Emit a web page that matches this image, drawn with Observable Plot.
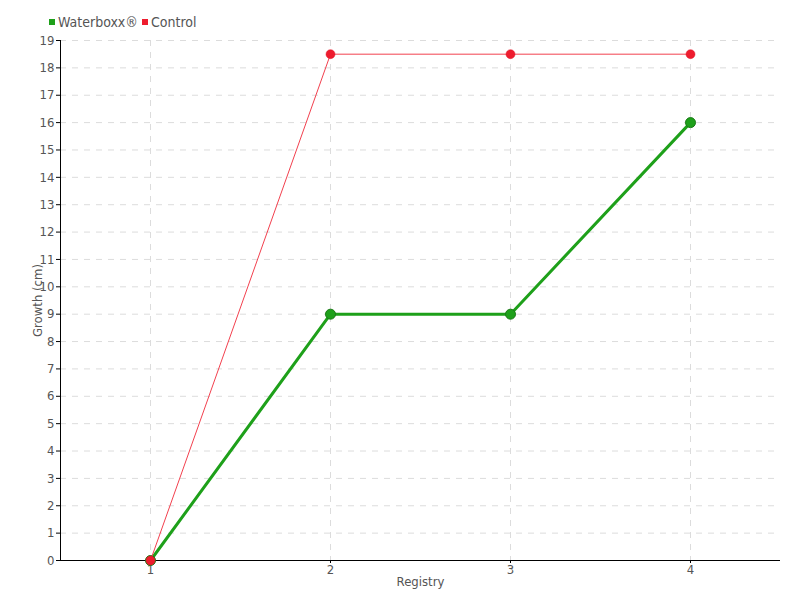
<!DOCTYPE html>
<html>
<head>
<meta charset="utf-8">
<script src="https://cdn.jsdelivr.net/npm/d3@7"></script>
<script src="https://cdn.jsdelivr.net/npm/@observablehq/plot@0.6"></script>
<style>
  body { margin: 0; background: #fff; font-family: "DejaVu Sans Condensed", "Liberation Sans Narrow", sans-serif; }
  #legend { height: 32px; position: relative; color: #555; font-size: 14px; }
  #legend span.item { position: absolute; top: 14px; line-height: 16px; }
  #legend i { display: inline-block; width: 6px; height: 6px; margin-right: 3px; vertical-align: 2px; }
  svg { display: block; }
</style>
</head>
<body>
<div id="legend"></div>
<div id="chart"></div>
<script>
const registry = [1, 2, 3, 4];
const waterboxx = [0, 9, 9, 16];
const control = [0, 18.5, 18.5, 18.5];
const yTicks = d3.range(0, 20);
const seriesNames = ["Waterboxx®", "Control"];
const seriesColors = ["#1ea01a", "#ee1c2e"];

const legend = document.getElementById("legend");
const legendX = [49, 142];
seriesNames.forEach((n, i) => {
  const s = document.createElement("span");
  s.className = "item";
  s.style.left = legendX[i] + "px";
  s.innerHTML = `<i style="background:${seriesColors[i]}"></i>${n}`;
  legend.appendChild(s);
});

const wData = registry.map((r, i) => ({r, v: waterboxx[i]}));
const cData = registry.map((r, i) => ({r, v: control[i]}));

const chart = Plot.plot({
  width: 800,
  height: 568,
  marginTop: 8,
  marginBottom: 40,
  marginLeft: 60,
  marginRight: 20,
  style: { fontFamily: '"DejaVu Sans Condensed", "Liberation Sans Narrow", sans-serif', fontSize: "13px", color: "#555" },
  x: { domain: [0.5, 4.5], ticks: registry },
  y: { domain: [0, 19], ticks: yTicks },
  marks: [
    Plot.gridX(registry, { stroke: "#dcdcdc", strokeOpacity: 1, strokeDasharray: "6,6" }),
    Plot.gridY(yTicks.filter(d => d > 0), { stroke: "#dcdcdc", strokeOpacity: 1, strokeDasharray: "6,6" }),
    Plot.ruleY([0], { stroke: "#000" }),
    Plot.ruleX([0.5], { stroke: "#000" }),
    Plot.axisX({ ticks: registry, tickSize: 3, tickPadding: 1, tickFormat: d3.format("d"), label: "Registry", labelAnchor: "center", labelArrow: "none", labelOffset: 25, fontSize: 13, stroke: "#000" }),
    Plot.axisY({ ticks: yTicks, tickSize: 4, tickPadding: 2, tickFormat: d3.format("d"), label: "Growth (cm)", labelAnchor: "center", labelArrow: "none", labelOffset: 28, fontSize: 13, stroke: "#000" }),
    Plot.line(wData, { x: "r", y: "v", stroke: seriesColors[0], strokeWidth: 3 }),
    Plot.dot(wData, { x: "r", y: "v", r: 5, fill: seriesColors[0], stroke: "#1a7a16", strokeWidth: 1 }),
    Plot.line(cData, { x: "r", y: "v", stroke: "#f2404e", strokeWidth: 1 }),
    Plot.dot(cData, { x: "r", y: "v", r: 4.5, fill: seriesColors[1], stroke: "#e01426", strokeWidth: 0.5 })
  ]
});
document.getElementById("chart").appendChild(chart);
</script>
</body>
</html>
